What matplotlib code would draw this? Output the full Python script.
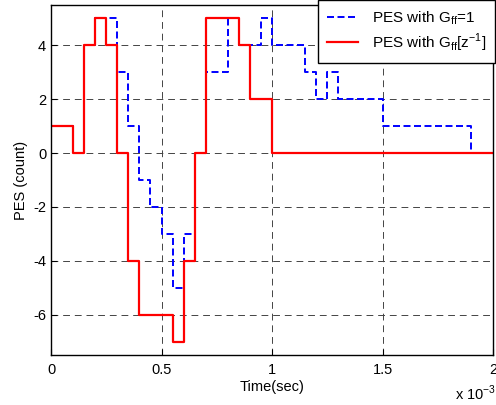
import numpy as np
import matplotlib
matplotlib.use("Agg")
import matplotlib.pyplot as plt
from matplotlib.ticker import FuncFormatter

plt.rcParams['font.family'] = ['Liberation Sans', 'DejaVu Sans']
plt.rcParams['axes.unicode_minus'] = False
plt.rcParams['mathtext.fontset'] = 'custom'
plt.rcParams['mathtext.rm'] = 'Liberation Sans'

# sample period 50 us, 40 samples over 2 ms
Ts = 0.05e-3
pes_gff1 = [1, 1, 0, 4, 5, 5, 3, 1, -1, -2,
            -3, -5, -3, 0, 3, 3, 5, 4, 4, 5,
            4, 4, 4, 3, 2, 3, 2, 2, 2, 2,
            1, 1, 1, 1, 1, 1, 1, 1, 0, 0]
pes_gffz = [1, 1, 0, 4, 5, 4, 0, -4, -6, -6,
            -6, -7, -4, 0, 5, 5, 5, 4, 2, 2,
            0, 0, 0, 0, 0, 0, 0, 0, 0, 0,
            0, 0, 0, 0, 0, 0, 0, 0, 0, 0]
labels = ['PES with G$_\\mathregular{ff}$=1',
          'PES with G$_\\mathregular{ff}$[z$^\\mathregular{-1}$]']

t = np.arange(len(pes_gff1) + 1) * Ts
y1 = np.append(pes_gff1, pes_gff1[-1])
y2 = np.append(pes_gffz, pes_gffz[-1])

fig = plt.figure(figsize=(4.96, 4.05), dpi=100)
ax = fig.add_axes([51/496, 1-355/405, (493-51)/496, (355-5)/405])

ax.step(t, y1, where='post', color='blue', linestyle=(0, (3.6, 1.8)), lw=1.4, label=labels[0])
ax.step(t, y2, where='post', color='red', lw=1.6, label=labels[1])

ax.set_xlim(0, 2e-3)
ax.set_ylim(-7.5, 5.5)
ax.set_xticks([0, 0.5e-3, 1e-3, 1.5e-3, 2e-3])
ax.set_yticks([-6, -4, -2, 0, 2, 4])
ax.xaxis.set_major_formatter(FuncFormatter(lambda v, p: ('%g' % (v / 1e-3))))
ax.tick_params(direction='in', length=4, labelsize=10.5, width=0.8)
ax.tick_params(axis='x', pad=6)
ax.grid(True, color='#444444', linestyle=(0, (7, 5)), lw=0.7)
for s in ax.spines.values():
    s.set_linewidth(1.0)

ax.set_xlabel('Time(sec)', fontsize=10.5, labelpad=2)
ax.set_ylabel('PES (count)', fontsize=10.5, labelpad=4)
fig.text(455/496, 1-403/405, 'x 10$^\\mathregular{-3}$', fontsize=10.5, ha='left', va='bottom')

leg = ax.legend(loc='upper right', bbox_to_anchor=(495/496, 1.0), bbox_transform=fig.transFigure,
                fancybox=False, framealpha=1, edgecolor='black', fontsize=11,
                handlelength=2.0, handletextpad=0.9, borderpad=0.6, labelspacing=0.3,
                borderaxespad=0)
leg.get_frame().set_linewidth(1.0)

fig.savefig('out.png', dpi=100)
